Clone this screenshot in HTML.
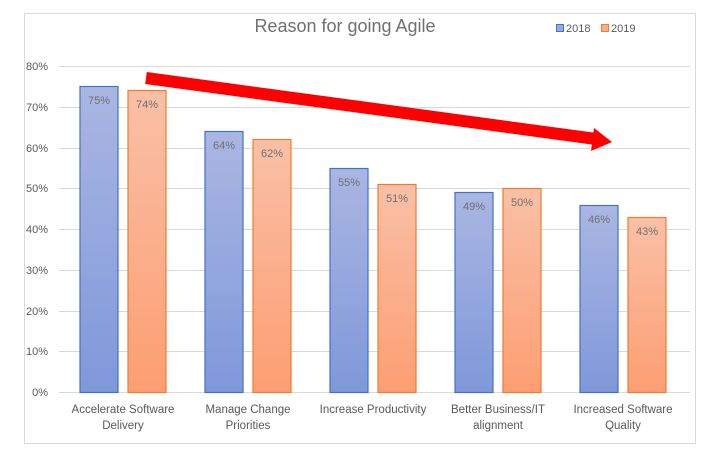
<!DOCTYPE html>
<html><head><style>
body{margin:0;background:#fff;}
svg{display:block;font-family:"Liberation Sans",sans-serif;}
</style></head><body>
<svg width="704" height="455" viewBox="0 0 704 455">
<defs>
<linearGradient id="b" x1="0" y1="0" x2="0" y2="1"><stop offset="0" stop-color="#aab6e2"/><stop offset="1" stop-color="#7f98da"/></linearGradient>
<linearGradient id="o" x1="0" y1="0" x2="0" y2="1"><stop offset="0" stop-color="#f9c0a6"/><stop offset="1" stop-color="#fd9e72"/></linearGradient>
</defs>
<rect x="24.5" y="13.5" width="671" height="430" fill="#fff" stroke="#d9d9d9"/>
<text x="345" y="32" text-anchor="middle" font-size="18" fill="#707070">Reason for going Agile</text>
<rect x="556.5" y="24.5" width="7" height="7" fill="#9aaae0" stroke="#4472c4"/>
<text x="566" y="32" font-size="11" fill="#595959">2018</text>
<rect x="601.5" y="24.5" width="7" height="7" fill="#f9b08e" stroke="#ed7d31"/>
<text x="611" y="32" font-size="11" fill="#595959">2019</text>
<g stroke="#d9d9d9" stroke-width="1">
<line x1="59" x2="690" y1="66.5" y2="66.5"/><line x1="59" x2="690" y1="107.5" y2="107.5"/>
<line x1="59" x2="690" y1="148.5" y2="148.5"/><line x1="59" x2="690" y1="188.5" y2="188.5"/>
<line x1="59" x2="690" y1="229.5" y2="229.5"/><line x1="59" x2="690" y1="270.5" y2="270.5"/>
<line x1="59" x2="690" y1="311.5" y2="311.5"/><line x1="59" x2="690" y1="351.5" y2="351.5"/>
<line x1="59" x2="690" y1="392.5" y2="392.5"/>
</g>
<g font-size="11" fill="#595959" text-anchor="end">
<text x="48" y="70">80%</text><text x="48" y="111">70%</text><text x="48" y="152">60%</text>
<text x="48" y="192">50%</text><text x="48" y="233">40%</text><text x="48" y="274">30%</text>
<text x="48" y="315">20%</text><text x="48" y="355">10%</text><text x="48" y="396">0%</text>
</g>
<g stroke-width="1.2">
<rect x="80" y="86.5" width="38" height="306" fill="url(#b)" stroke="#4472c4"/>
<rect x="128" y="90.5" width="38" height="302" fill="url(#o)" stroke="#ed7d31"/>
<rect x="205" y="131.5" width="38" height="261" fill="url(#b)" stroke="#4472c4"/>
<rect x="253" y="139.5" width="38" height="253" fill="url(#o)" stroke="#ed7d31"/>
<rect x="330" y="168.5" width="38" height="224" fill="url(#b)" stroke="#4472c4"/>
<rect x="378" y="184.5" width="38" height="208" fill="url(#o)" stroke="#ed7d31"/>
<rect x="455" y="192.5" width="38" height="200" fill="url(#b)" stroke="#4472c4"/>
<rect x="503" y="188.5" width="38" height="204" fill="url(#o)" stroke="#ed7d31"/>
<rect x="580" y="205.5" width="38" height="187" fill="url(#b)" stroke="#4472c4"/>
<rect x="628" y="217.5" width="38" height="175" fill="url(#o)" stroke="#ed7d31"/>
</g>
<g font-size="11" fill="#707070" text-anchor="middle">
<text x="99" y="104">75%</text><text x="147" y="108">74%</text>
<text x="224" y="149">64%</text><text x="272" y="157">62%</text>
<text x="349" y="186">55%</text><text x="397" y="202">51%</text>
<text x="474" y="210">49%</text><text x="522" y="206">50%</text>
<text x="599" y="223">46%</text><text x="647" y="235">43%</text>
</g>
<g font-size="11.5" fill="#595959" text-anchor="middle">
<text x="123" y="413">Accelerate Software</text><text x="123" y="429">Delivery</text>
<text x="248" y="413">Manage Change</text><text x="248" y="429">Priorities</text>
<text x="373" y="413">Increase Productivity</text>
<text x="498" y="413">Better Business/IT</text><text x="498" y="429">alignment</text>
<text x="623" y="413">Increased Software</text><text x="623" y="429">Quality</text>
</g>
<line x1="146" y1="78" x2="596" y2="139" stroke="#ff0000" stroke-width="12"/>
<polygon points="612,142 594,128 591,151" fill="#ff0000"/>
</svg>
</body></html>
